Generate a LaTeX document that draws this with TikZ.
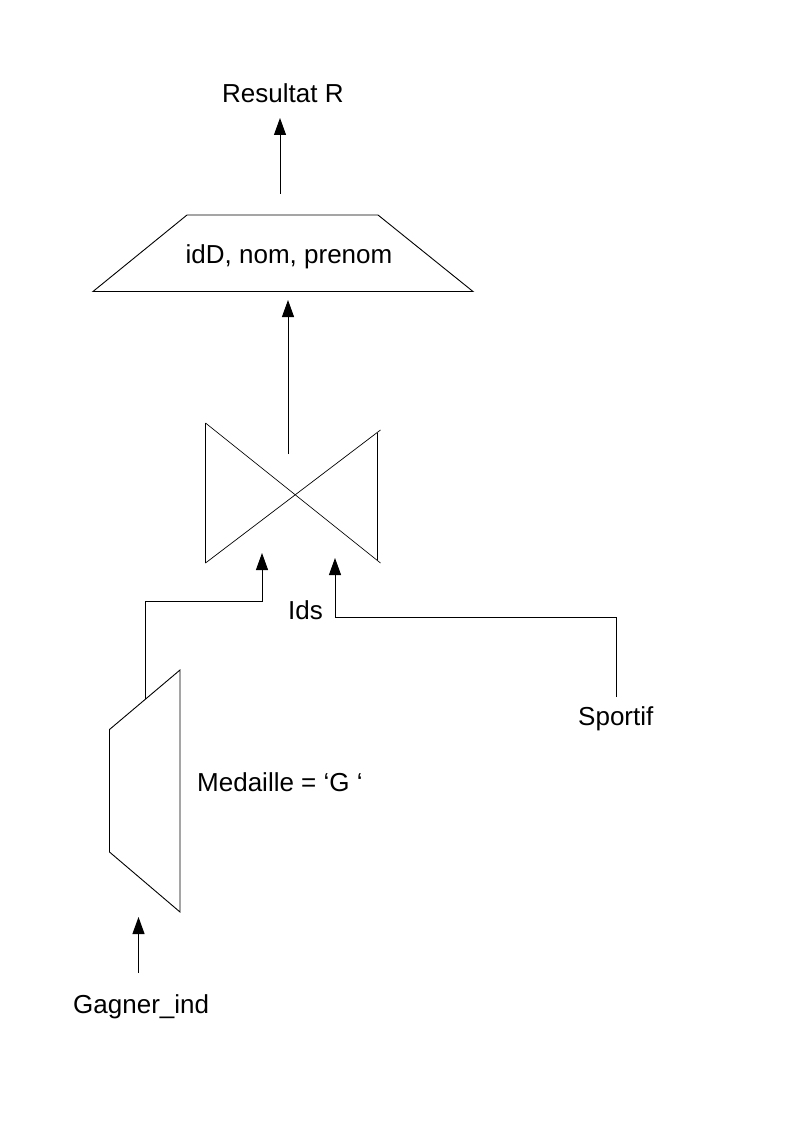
\documentclass[tikz,border=0pt]{standalone}
\usepackage{fontspec}
\setmainfont{Liberation Sans}
\usetikzlibrary{arrows.meta}
\begin{document}
\begin{tikzpicture}[x=1pt,y=-1pt,
  lbl/.style={anchor=base west,inner sep=0pt,font=\fontsize{26}{31}\selectfont},
  shp/.style={draw=black,line width=0.9pt,line join=miter},
  thin/.style={draw=black,line width=0.7pt},
  arr/.style={draw=black,line width=1pt,-{Triangle[length=17pt,width=12pt]}},
  conn/.style={draw=black,line width=1pt}]
\useasboundingbox[fill=white] (0,0) rectangle (794,1123);

% labels
\node[lbl] (res) at (222,103) {Resultat R};
\node[lbl] (proj) at (185.5,263.5) {idD, nom, prenom};
\node[lbl] (ids) at (288,619) {Ids};
\node[lbl] (sportif) at (578,725) {Sportif};
\node[lbl] (sel) at (197,791) {Medaille = ‘G ‘};
\node[lbl] (gagner) at (73,1013) {Gagner\_ind};

% projection trapezoid
\draw[shp] (187,215) -- (378,215) -- (473,291.5) -- (93,291.5) -- cycle;

% join bowtie
\draw[shp] (205.5,423) -- (205.5,563);
\draw[shp] (377,433) -- (377,560);
\draw[thin] (205.5,423) -- (380.5,563);
\draw[thin] (205.5,563) -- (380.5,430);

% selection trapezoid
\draw[shp] (180,670) -- (109.5,729.5) -- (109.5,852) -- (180,912) -- cycle;

% connector end points
\coordinate (c1s) at (280,194);
\coordinate (c1e) at (280,118);
\coordinate (c2s) at (288,454);
\coordinate (c2e) at (288,300);
\coordinate (c3s) at (145,699);
\coordinate (c3e) at (262,553);
\coordinate (c4s) at (616,697);
\coordinate (c4e) at (335,558);
\coordinate (c5s) at (138.5,973);
\coordinate (c5e) at (138.5,917);

\draw[arr] (c1s) -- (c1e);
\draw[arr] (c2s) -- (c2e);
\draw[arr] (c3s) |- (262,601) -- (c3e);
\draw[arr] (c4s) |- (335,617.5) -- (c4e);
\draw[arr] (c5s) -- (c5e);
\end{tikzpicture}
\end{document}
